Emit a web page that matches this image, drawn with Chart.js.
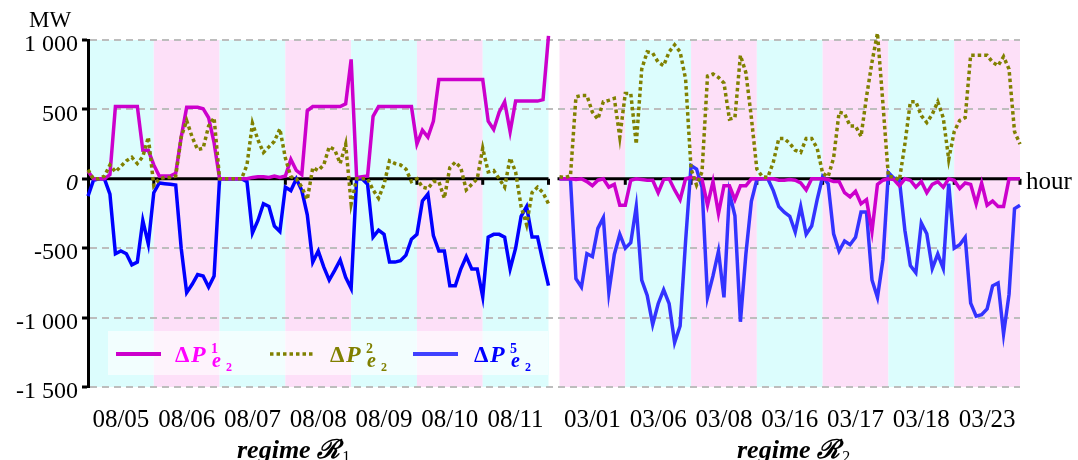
<!DOCTYPE html>
<html>
<head>
<meta charset="utf-8">
<script src="https://cdn.jsdelivr.net/npm/chart.js@4.4.1/dist/chart.umd.min.js"></script>
<style>
  html, body { margin: 0; padding: 0; background: #fff; }
</style>
</head>
<body>
<canvas id="chart" width="1078" height="460"></canvas>
<script>
'use strict';

// day labels of the two regimes
const daysR1 = ['08/05', '08/06', '08/07', '08/08', '08/09', '08/10', '08/11'];
const daysR2 = ['03/01', '03/06', '03/08', '03/16', '03/17', '03/18', '03/23'];
const yTicks = [1000, 500, 0, -500, -1000, -1500];

// one value every 2 hours, 12 per day, plus the end of the last day (MW)
const dp1R1 = [
  55, 0, 0, 0, 30, 520, 520, 520, 520, 520, 205, 205,
  100, 20, 20, 20, 40, 300, 515, 515, 515, 505, 440, 260,
  0, 0, 0, 0, 0, 0, 10, 15, 15, 10, 20, 10,
  20, 140, 60, 30, 490, 520, 520, 520, 520, 520, 520, 540,
  860, 10, 15, 20, 450, 520, 520, 520, 520, 520, 520, 520,
  250, 350, 300, 415, 715, 715, 715, 715, 715, 715, 715, 715,
  715, 415, 355, 480, 555, 340, 560, 560, 560, 560, 560, 570,
  1030
];
const dp2R1 = [
  65, 0, 0, 20, 100, 50, 90, 130, 155, 110, 160, 300,
  -50, 0, 10, 10, 20, 300, 420, 300, 210, 220, 380, 440,
  0, 0, 0, 0, 0, 100, 400, 280, 190, 230, 270, 360,
  150, 15, 0, -60, -150, 80, 60, 100, 230, 210, 110, 250,
  -180, 0, 0, 0, -80, -140, -40, 130, 110, 100, 70, -20,
  0, -60, -70, -20, -20, -140, 80, 120, 80, -80, -40, 0,
  220, 50, 60, 0, -60, 150, 50, -200, -330, -100, -60, -100,
  -180
];
const dp5R1 = [
  -125, -10, 0, 0, -110, -540, -520, -540, -620, -600, -300, -470,
  -100, -30, -35, -40, -45, -500, -820, -760, -690, -700, -780, -700,
  0, 0, 0, 0, 0, -20, -390, -300, -180, -200, -340, -380,
  -60, -85, 0, -85, -260, -600, -520, -635, -730, -660, -585, -710,
  -790, 0, 0, -40, -420, -370, -400, -600, -600, -590, -550, -435,
  -400, -160, -110, -410, -520, -520, -770, -770, -650, -560, -650, -650,
  -850, -420, -400, -400, -420, -650, -500, -270, -200, -420, -420, -600,
  -770
];
const dp1R2 = [
  0, 0, 0, -5, 0, -20, -50, -10, 0, -60, -40, -190,
  -190, -10, 0, -5, -10, -10, -100, -5, 0, -80, -150, 0,
  10, 0, -5, -190, -20, -250, -50, -50, -150, -50, -50, 0,
  0, 0, 0, 0, -10, -10, -5, -10, -30, -80, 0, 0,
  0, -5, -20, -20, -100, -130, -90, -180, -150, -380, -40, -10,
  0, -5, -50, 0, -10, -60, -20, -100, -40, -20, -60, 0,
  -10, -70, -30, -40, -180, -30, -190, -160, -200, -200, 0, 0,
  0
];
const dp2R2 = [
  15, 10, 20, 590, 600, 600, 480, 430, 555, 565, 580, 300,
  615, 615, 250, 790, 915, 905, 840, 815, 915, 965, 915, 720,
  70, -45, 50, 740, 755, 730, 690, 430, 440, 890, 765, 440,
  70, 15, 10, 120, 290, 290, 255, 205, 190, 290, 290, 220,
  40, 15, 150, 480, 470, 380, 380, 305, 590, 840, 1050, 540,
  15, 15, -10, 250, 555, 555, 455, 405, 465, 555, 440, 140,
  340, 420, 440, 890, 890, 890, 890, 840, 815, 880, 790, 340,
  250
];
const dp5R2 = [
  0, 0, 0, -720, -780, -540, -560, -357, -280, -820, -545, -400,
  -500, -460, -200, -730, -840, -1050, -900, -800, -900, -1180, -1060, -450,
  95, 70, -60, -854, -700, -521, -854, -100, -267, -1030, -542, -163,
  -5, 0, 0, -85, -200, -240, -270, -383, -200, -400, -340, -150,
  15, -35, -396, -521, -448, -475, -422, -240, -240, -729, -854, -583,
  45, 5, -8, -370, -625, -677, -319, -396, -646, -542, -646, -35,
  -500, -475, -422, -896, -990, -979, -937, -771, -750, -1118, -833, -215,
  -190
];

const GAP = 0.167;            // white gap between the two regimes, in days
const R2_START = 7 + GAP;
const CYAN = '#dcfdfd';
const PINK = '#fde0f8';

function toPoints(values, offset) {
  return values.map((v, i) => ({ x: offset + i / 12, y: v }));
}

function fmtTick(v) {
  return String(v).replace(/\B(?=(\d{3})+(?!\d))/g, ' ');
}

const dayCenters = daysR1.map((d, i) => i + 0.5).concat(daysR2.map((d, i) => R2_START + i + 0.5));
const dayLabels = daysR1.concat(daysR2);

// day bands behind everything
const bandsPlugin = {
  id: 'bands',
  beforeDraw(chart) {
    const { ctx, chartArea: a, scales: { x } } = chart;
    ctx.save();
    for (let i = 0; i < 7; i++) {
      ctx.fillStyle = i % 2 === 0 ? CYAN : PINK;
      ctx.fillRect(x.getPixelForValue(i), a.top, x.getPixelForValue(i + 1) - x.getPixelForValue(i), a.bottom - a.top);
      ctx.fillStyle = i % 2 === 0 ? PINK : CYAN;
      const l = x.getPixelForValue(R2_START + i);
      ctx.fillRect(l, a.top, x.getPixelForValue(R2_START + i + 1) - l, a.bottom - a.top);
    }
    ctx.restore();
  }
};

// thick zero axis per regime, with small day ticks
const zeroPlugin = {
  id: 'zero',
  beforeDatasetsDraw(chart) {
    const { ctx, scales: { x, y } } = chart;
    const y0 = y.getPixelForValue(0);
    ctx.save();
    ctx.strokeStyle = '#000';
    ctx.lineWidth = 3;
    for (const off of [0, R2_START]) {
      ctx.beginPath();
      ctx.moveTo(x.getPixelForValue(off) - (off ? 2 : 0), y0);
      ctx.lineTo(x.getPixelForValue(off + 7), y0);
      ctx.stroke();
      for (let d = 1; d <= 7; d++) {
        const px = x.getPixelForValue(off + d);
        ctx.beginPath();
        ctx.moveTo(px, y0);
        ctx.lineTo(px, y0 + 6);
        ctx.stroke();
      }
    }
    ctx.restore();
  }
};

function drawSymbol(ctx, x0, base, color, sup) {
  ctx.fillStyle = color;
  ctx.textBaseline = 'alphabetic';
  ctx.textAlign = 'left';
  ctx.font = 'bold 23px "Liberation Serif"';
  ctx.fillText('\u0394', x0, base);
  ctx.font = 'italic bold 24px "Liberation Serif"';
  ctx.fillText('P', x0 + 16, base);
  ctx.font = 'bold 14px "Liberation Serif"';
  ctx.fillText(sup, x0 + 36, base - 9);
  ctx.font = 'italic bold 20px "Liberation Serif"';
  ctx.fillText('e', x0 + 37, base + 5);
  ctx.font = 'bold 12px "Liberation Serif"';
  ctx.fillText('2', x0 + 51, base + 9);
}

// legend box, unit labels and regime captions
const textPlugin = {
  id: 'texts',
  afterDatasetsDraw(chart) {
    const { ctx } = chart;
    ctx.save();
    ctx.fillStyle = 'rgba(255,255,255,0.62)';
    ctx.fillRect(108, 331, 440, 44);

    const ly = 354;
    ctx.lineWidth = 4;
    ctx.strokeStyle = '#cc00cc';
    ctx.beginPath(); ctx.moveTo(116, ly); ctx.lineTo(161, ly); ctx.stroke();
    ctx.strokeStyle = '#808000';
    ctx.lineWidth = 3.5;
    ctx.setLineDash([3.5, 3]);
    ctx.beginPath(); ctx.moveTo(270, ly); ctx.lineTo(313, ly); ctx.stroke();
    ctx.setLineDash([]);
    ctx.lineWidth = 4;
    ctx.strokeStyle = '#4040ff';
    ctx.beginPath(); ctx.moveTo(413, ly); ctx.lineTo(458, ly); ctx.stroke();

    drawSymbol(ctx, 175, 362, '#ff00ff', '1');
    drawSymbol(ctx, 330, 362, '#808000', '2');
    drawSymbol(ctx, 474, 362, '#0000ff', '5');

    ctx.fillStyle = '#000';
    ctx.font = '23px "Liberation Serif"';
    ctx.fillText('MW', 29, 27);
    ctx.font = '25px "Liberation Serif"';
    ctx.fillText('hour', 1026, 189);

    for (const [x0, idx] of [[237, '1'], [737, '2']]) {
      ctx.font = 'italic bold 26px "Liberation Serif"';
      ctx.fillText('regime \u211B', x0, 458);
      const w = ctx.measureText('regime \u211B').width;
      ctx.font = '16px "Liberation Serif"';
      ctx.fillText(idx, x0 + w + 2, 462);
    }
    ctx.restore();
  }
};

function series(values, offset, color, width, dash, order) {
  return {
    data: toPoints(values, offset),
    borderColor: color,
    borderWidth: width,
    borderDash: dash,
    borderCapStyle: 'butt',
    pointRadius: 0,
    tension: 0,
    clip: 12,
    order: order
  };
}

const chartObj = {
  type: 'line',
  data: {
    datasets: [
      series(dp2R1, 0, '#808000', 3.5, [3.5, 3], 0),
      series(dp1R1, 0, '#cc00cc', 3.5, [], 1),
      series(dp5R1, 0, '#0000ff', 3.5, [], 2),
      series(dp2R2, R2_START, '#808000', 3.5, [3.5, 3], 0),
      series(dp1R2, R2_START, '#cc00cc', 3.5, [], 1),
      series(dp5R2, R2_START, '#3333ff', 3.5, [], 2)
    ]
  },
  options: {
    responsive: false,
    animation: false,
    events: [],
    layout: { padding: { top: 40, right: 58, left: 0, bottom: 0 } },
    plugins: { legend: { display: false }, tooltip: { enabled: false } },
    scales: {
      x: {
        type: 'linear',
        min: 0,
        max: R2_START + 7,
        afterBuildTicks: (scale) => { scale.ticks = dayCenters.map(v => ({ value: v })); },
        afterFit: (scale) => { scale.height = 73; },
        ticks: {
          autoSkip: false,
          maxRotation: 0,
          padding: 18,
          color: '#000',
          font: { family: 'Liberation Serif', size: 25 },
          callback: (v, i) => dayLabels[i]
        },
        grid: { display: false, drawTicks: false },
        border: { display: false }
      },
      y: {
        min: -1500,
        max: 1000,
        afterBuildTicks: (scale) => { scale.ticks = yTicks.map(v => ({ value: v })); },
        afterFit: (scale) => { scale.width = 88; },
        ticks: {
          padding: 4,
          labelOffset: 5,
          color: '#000',
          font: (c) => ({ family: 'Liberation Serif', size: 24, style: c.tick && c.tick.value === 0 ? 'italic' : 'normal' }),
          callback: (v) => fmtTick(v)
        },
        grid: {
          color: (c) => (c.tick && c.tick.value === 0 ? 'rgba(0,0,0,0)' : '#bdbdbd'),
          lineWidth: 2,
          tickLength: 6,
          tickColor: '#000',
          tickWidth: 3
        },
        border: { display: true, color: '#000', width: 3, dash: [7, 5] }
      }
    }
  },
  plugins: [bandsPlugin, zeroPlugin, textPlugin]
};

new Chart(document.getElementById('chart'), chartObj); //eslint-disable-line
</script>
</body>
</html>
